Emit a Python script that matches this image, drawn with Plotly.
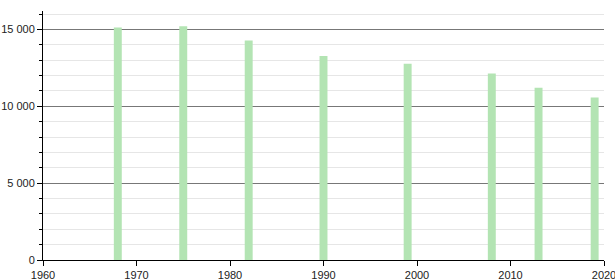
import plotly.graph_objects as go

years = [1968, 1975, 1982, 1990, 1999, 2008, 2013, 2019]
population = [15130, 15200, 14280, 13280, 12760, 12130, 11200, 10580]

x_ticks = [1960, 1970, 1980, 1990, 2000, 2010, 2020]
y_ticks = [0, 5000, 10000, 15000]
y_labels = ["0", "5 000", "10 000", "15 000"]

fig = go.Figure()
fig.add_trace(go.Bar(
    x=years, y=population, width=0.85,
    marker=dict(color="#b3e4b3", line=dict(width=0)),
    hoverinfo="x+y",
))

fig.update_layout(
    width=615, height=280,
    margin=dict(l=43, r=11, t=11, b=20, autoexpand=False),
    paper_bgcolor="white", plot_bgcolor="white",
    showlegend=False,
    font=dict(family="Liberation Sans, Arial, sans-serif", size=11, color="#222"),
)
fig.update_xaxes(
    range=[1960, 2020], tickvals=x_ticks, ticktext=[str(v) for v in x_ticks],
    automargin=False, ticklabeloverflow="allow",
    showgrid=False, zeroline=False,
    showline=True, linecolor="black", linewidth=1,
    ticks="outside", ticklen=5, tickcolor="black", tickwidth=1,
)
fig.update_yaxes(
    range=[0, 16200], tickvals=y_ticks, ticktext=y_labels,
    automargin=False, ticklabeloverflow="allow",
    showgrid=True, gridcolor="#777777", gridwidth=1,
    zeroline=False,
    showline=True, linecolor="black", linewidth=1,
    ticks="outside", ticklen=5, tickcolor="black", tickwidth=1,
    minor=dict(dtick=1000, tick0=0, showgrid=True, gridcolor="#e6e6e6", gridwidth=1,
               ticks="outside", ticklen=3, tickcolor="black"),
)

fig.write_html("out.html")
